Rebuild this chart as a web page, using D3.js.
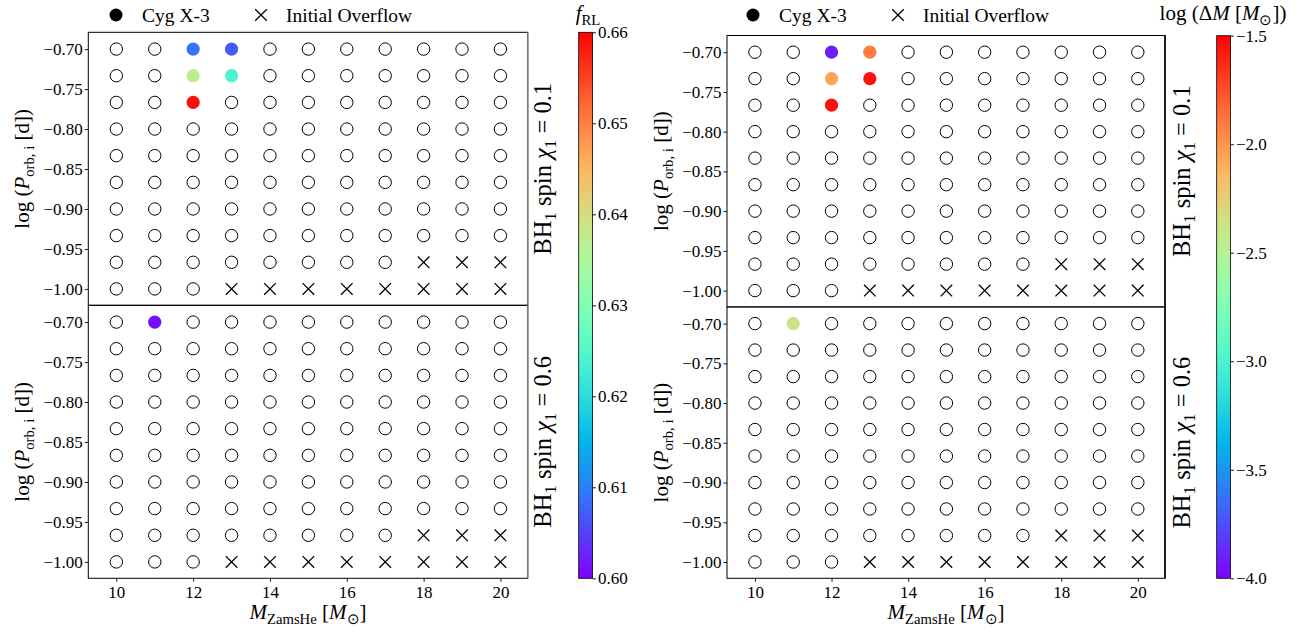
<!DOCTYPE html>
<html>
<head>
<meta charset="utf-8">
<script src="https://cdn.jsdelivr.net/npm/d3@7"></script>
<style>
  body { margin: 0; background: #fff; }
  svg { display: block; }
  svg text { font-family: "Liberation Serif", "Times New Roman", serif; }
</style>
</head>
<body>
<svg id="chart" width="1315" height="633"></svg>
<script>
// grid of models
const masses = [10, 11, 12, 13, 14, 15, 16, 17, 18, 19, 20]
const logPorb = [-0.70, -0.7333, -0.7667, -0.80, -0.8333, -0.8667, -0.90, -0.9333, -0.9667, -1.00]

// models that overflow their Roche lobe at the start (same for both spins)
const overflowCells = [
  [18, -0.9667], [19, -0.9667], [20, -0.9667],
  [13, -1.00], [14, -1.00], [15, -1.00], [16, -1.00],
  [17, -1.00], [18, -1.00], [19, -1.00], [20, -1.00]
]

// Cyg X-3 like models: [mass, logP, value]
const fRLSpin01 = [[12, -0.70, 0.609], [13, -0.70, 0.607], [12, -0.7333, 0.637], [13, -0.7333, 0.624], [12, -0.7667, 0.659]]
const fRLSpin06 = [[11, -0.70, 0.601]]
const dMSpin01 = [[12, -0.70, -3.92], [13, -0.70, -1.9], [12, -0.7333, -2.05], [13, -0.7333, -1.55], [12, -0.7667, -1.55]]
const dMSpin06 = [[11, -0.70, -2.37]]

const xTicks = [10, 12, 14, 16, 18, 20]
const yTicks = [-0.70, -0.75, -0.80, -0.85, -0.90, -0.95, -1.00]
const fRLTicks = [0.60, 0.61, 0.62, 0.63, 0.64, 0.65, 0.66]
const dMTicks = [-4.0, -3.5, -3.0, -2.5, -2.0, -1.5]
const spins = ['0.1', '0.6']

const serif = '"Liberation Serif", "Times New Roman", serif'

// matplotlib 'rainbow'
function rainbow(t) {
  t = Math.max(0, Math.min(1, t))
  const r = Math.min(1, Math.abs(2 * t - 0.5))
  const g = Math.sin(Math.PI * t)
  const b = Math.cos(Math.PI * t / 2)
  return d3.rgb(r * 255, g * 255, b * 255).formatHex()
}

const svg = d3.select('#chart').attr('font-family', serif)
const tickFont = 17

// text with italic / subscript pieces, size = parent font size
function richText(sel, parts, size) {
  const shift = size * 0.22
  let low = false
  parts.forEach(p => {
    const t = sel.append('tspan').text(p.t)
    if (p.i) t.attr('font-style', 'italic')
    if (p.sub) {
      t.attr('font-size', size * 0.7)
      if (!low) { t.attr('dy', shift); low = true }
    } else if (low) {
      t.attr('dy', -shift); low = false
    }
  })
  return sel
}

function styleAxis(a) {
  a.attr('font-family', serif).attr('font-size', tickFont)
  a.select('.domain').remove()
  a.selectAll('text').attr('font-family', serif).attr('font-size', tickFont).attr('fill', '#000')
  a.selectAll('line').attr('stroke', '#000').attr('stroke-width', 0.9)
}

const panels = [
  {
    left: 88.3, right: 527.7, top: 32.3, bottom: 578.3,
    cbX: 578.7, cbTop: 32.3, domain: [0.60, 0.66], ticks: fRLTicks, fmt: d3.format('.2f'),
    series: [fRLSpin01, fRLSpin06], legendX: 116, ylabX: 29, spinX: 551, spineColor: '#777',
    cbTitle: [{t: 'f', i: true}, {t: 'RL', sub: true}], cbTitleX: 588, id: 'fRL'
  },
  {
    left: 727, right: 1165, top: 35.5, bottom: 578.3,
    cbX: 1216.7, cbTop: 35.7, domain: [-4.0, -1.5], ticks: dMTicks, fmt: d3.format('.1f'),
    series: [dMSpin01, dMSpin06], legendX: 753, ylabX: 668, spinX: 1190, spineColor: '#000',
    cbTitle: [{t: 'log (Δ'}, {t: 'M', i: true}, {t: ' ['}, {t: 'M', i: true}, {t: '⊙', sub: true}, {t: '])'}], cbTitleX: 1223, id: 'dM'
  }
]

panels.forEach(P => {
  const x = d3.scaleLinear().domain([9.27, 20.71]).range([P.left, P.right])
  const h = (P.bottom - P.top) / 2
  const color = v => rainbow((v - P.domain[0]) / (P.domain[1] - P.domain[0]))

  spins.forEach((spin, si) => {
    const top = P.top + si * h
    const y = d3.scaleLinear().domain([-1.0205, -0.679]).range([top + h, top])
    const g = svg.append('g')
    const cyg = P.series[si]
    const isCyg = (m, p) => cyg.some(c => c[0] === m && c[1] === p)
    const isOver = (m, p) => overflowCells.some(c => c[0] === m && c[1] === p)

    const cells = []
    logPorb.forEach(p => masses.forEach(m => {
      if (!isCyg(m, p) && !isOver(m, p)) cells.push([m, p])
    }))

    g.selectAll('circle.open').data(cells).join('circle')
      .attr('class', 'open')
      .attr('cx', d => x(d[0])).attr('cy', d => y(d[1])).attr('r', 6.2)
      .attr('fill', '#fff').attr('stroke', '#000').attr('stroke-width', 1)

    g.selectAll('path.over').data(overflowCells).join('path')
      .attr('class', 'over')
      .attr('transform', d => `translate(${x(d[0])},${y(d[1])})`)
      .attr('d', 'M-5.8,-5.8L5.8,5.8M-5.8,5.8L5.8,-5.8')
      .attr('stroke', '#000').attr('stroke-width', 1.3).attr('fill', 'none')

    g.selectAll('circle.cyg').data(cyg).join('circle')
      .attr('class', 'cyg')
      .attr('cx', d => x(d[0])).attr('cy', d => y(d[1])).attr('r', 6.6)
      .attr('fill', d => color(d[2]))

    // frame
    g.append('rect').attr('x', P.left).attr('y', top).attr('width', P.right - P.left).attr('height', h)
      .attr('fill', 'none').attr('stroke', '#000').attr('stroke-width', 1)
    g.append('line').attr('x1', P.right).attr('x2', P.right).attr('y1', top).attr('y2', top + h)
      .attr('stroke', P.spineColor).attr('stroke-width', 1.5)

    g.append('g').attr('transform', `translate(${P.left},0)`)
      .call(d3.axisLeft(y).tickValues(yTicks).tickFormat(d3.format('.2f')).tickSize(3.5).tickPadding(2))
      .call(styleAxis)

    if (si === 1) {
      g.append('g').attr('transform', `translate(0,${top + h})`)
        .call(d3.axisBottom(x).tickValues(xTicks).tickSize(3.5).tickPadding(4))
        .call(styleAxis)
    }

    // y label
    const yl = g.append('text')
      .attr('transform', `translate(${P.ylabX},${top + h / 2}) rotate(-90)`)
      .attr('text-anchor', 'middle').attr('font-size', 21)
    richText(yl, [{t: 'log ('}, {t: 'P', i: true}, {t: 'orb, i', sub: true}, {t: ' [d])'}], 21)

    // spin label
    const sl = g.append('text')
      .attr('transform', `translate(${P.spinX},${top + h / 2}) rotate(-90)`)
      .attr('text-anchor', 'middle').attr('font-size', 24.5)
    richText(sl, [{t: 'BH'}, {t: '1', sub: true}, {t: ' spin '}, {t: 'χ', i: true}, {t: '1', sub: true}, {t: ' = ' + spin}], 24.5)
  })

  // x label
  const xl = svg.append('text')
    .attr('x', (P.left + P.right) / 2).attr('y', 619)
    .attr('text-anchor', 'middle').attr('font-size', 21)
  richText(xl, [{t: 'M', i: true}, {t: 'ZamsHe', sub: true}, {t: ' ['}, {t: 'M', i: true}, {t: '⊙', sub: true}, {t: ']'}], 21)

  // legend
  const lg = svg.append('g').attr('transform', `translate(${P.legendX},15)`)
  lg.append('circle').attr('r', 6.5).attr('fill', '#000')
  lg.append('text').attr('x', 26).attr('y', 6.5).attr('font-size', 19.5).text('Cyg X-3')
  lg.append('path').attr('transform', 'translate(145,0)')
    .attr('d', 'M-5.8,-5.8L5.8,5.8M-5.8,5.8L5.8,-5.8').attr('stroke', '#000').attr('stroke-width', 1.3)
  lg.append('text').attr('x', 170).attr('y', 6.5).attr('font-size', 19.5).text('Initial Overflow')

  // colorbar
  const cbW = 13.8
  const cy = d3.scaleLinear().domain(P.domain).range([P.bottom, P.cbTop])
  const grad = svg.append('defs').append('linearGradient').attr('id', 'grad-' + P.id)
    .attr('x1', 0).attr('y1', 1).attr('x2', 0).attr('y2', 0)
  d3.range(0, 1.0001, 0.02).forEach(t => {
    grad.append('stop').attr('offset', t).attr('stop-color', rainbow(t))
  })
  svg.append('rect').attr('x', P.cbX).attr('y', P.cbTop).attr('width', cbW).attr('height', P.bottom - P.cbTop)
    .attr('fill', `url(#grad-${P.id})`).attr('stroke', '#000').attr('stroke-width', 0.8)
  svg.append('g').attr('transform', `translate(${P.cbX + cbW},0)`)
    .call(d3.axisRight(cy).tickValues(P.ticks).tickFormat(P.fmt).tickSize(3.5).tickPadding(2))
    .call(styleAxis)

  const ct = svg.append('text').attr('x', P.cbTitleX).attr('y', 20)
    .attr('text-anchor', 'middle').attr('font-size', 21)
  richText(ct, P.cbTitle, 21)
})
</script>
</body>
</html>
